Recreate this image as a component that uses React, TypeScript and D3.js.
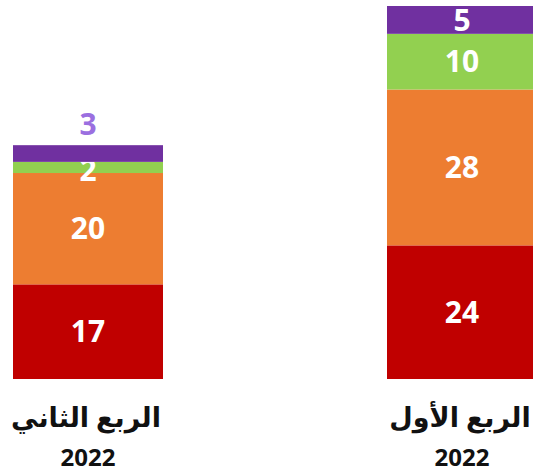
import React from "react";
import * as d3 from "d3";

const categories = ["الربع الثاني", "الربع الأول"];
const years = ["2022", "2022"];
const seriesNames = ["s1", "s2", "s3", "s4"];
const s1 = [17, 24];
const s2 = [20, 28];
const s3 = [2, 10];
const s4 = [3, 5];
const colors = ["#c00000", "#ed7d31", "#92d050", "#7030a0"];

const W = 533;
const H = 474;

export default function App() {
  const x = d3.scaleBand<string>().domain(categories).range([13, 537]).paddingInner(224 / 374).paddingOuter(0);
  const y = d3.scaleLinear().domain([0, 67]).range([379, 6]);
  const rows = categories.map((c, i) => ({ cat: c, s1: s1[i], s2: s2[i], s3: s3[i], s4: s4[i] }));
  const stack = d3.stack<any>().keys(seriesNames)(rows);
  const font = "'Noto Sans', 'DejaVu Sans', sans-serif";
  return (
    <svg width={W} height={H} style={{ position: "absolute", left: 0, top: 0, background: "#fff" }}>
      {stack.map((layer, li) =>
        layer.map((d, i) => {
          const cat = categories[i];
          const x0 = x(cat)!;
          const bw = x.bandwidth();
          const y0 = y(d[1]);
          const y1 = y(d[0]);
          const v = d[1] - d[0];
          const cx = x0 + bw / 2;
          const outside = li === 3 && y1 - y0 < 20;
          return (
            <g key={`${li}-${i}`}>
              <rect x={x0} y={y0} width={bw} height={y1 - y0} fill={colors[li]} />
              <text
                x={cx}
                y={outside ? y0 - 21 : (y0 + y1) / 2 + (li === 2 && y1 - y0 < 12 ? 3 : 0)}
                dy="0.36em"
                textAnchor="middle"
                fontFamily={font}
                fontWeight="bold"
                fontSize={30}
                fill={outside ? "#9b6fe0" : "#ffffff"}
              >
                {v}
              </text>
            </g>
          );
        })
      )}
      {categories.map((c, i) => {
        const cx = x(c)! + x.bandwidth() / 2;
        return (
          <g key={c}>
            <text x={cx - 2} y={427} textAnchor="middle" fontFamily={font} fontWeight="bold" fontSize={27} fill="#111" direction="rtl">
              {c}
            </text>
            <text x={cx} y={466} textAnchor="middle" fontFamily={font} fontWeight="bold" fontSize={24} fill="#111">
              {years[i]}
            </text>
          </g>
        );
      })}
    </svg>
  );
}
